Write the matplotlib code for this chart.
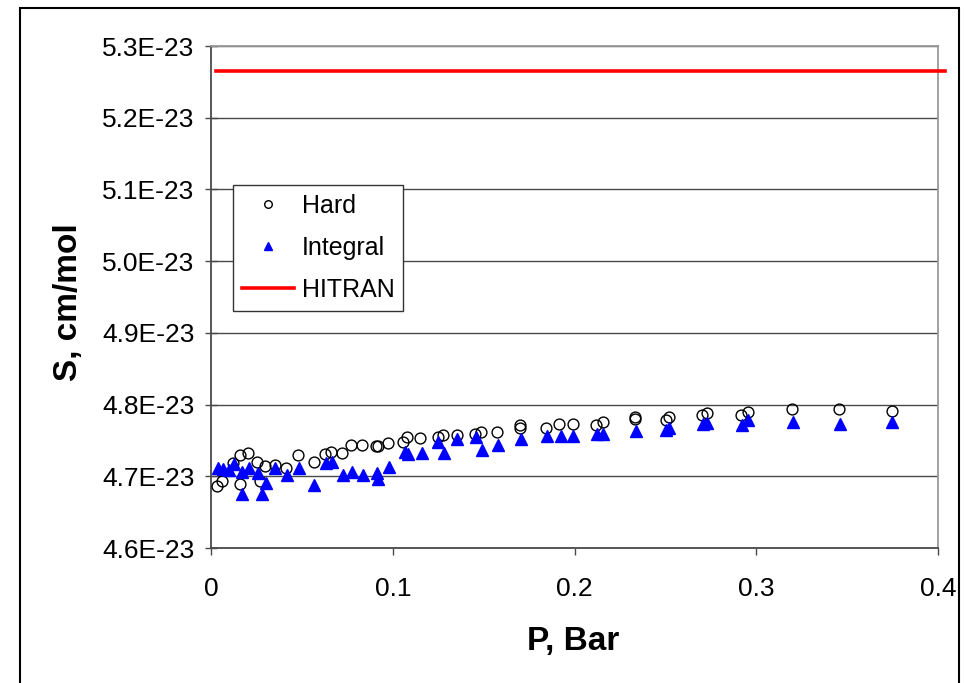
import matplotlib
matplotlib.use("Agg")
import matplotlib.pyplot as plt
from matplotlib.patches import Rectangle
from matplotlib.ticker import FuncFormatter

plt.rcParams['font.family'] = ['Liberation Sans', 'DejaVu Sans']

# Line strength S (units of 1E-23 cm/mol) versus pressure P (bar)
hard_p = [0.0035, 0.0059, 0.0123, 0.016, 0.016, 0.0205, 0.0255, 0.027, 0.0297, 0.035,
          0.0413, 0.048, 0.0567, 0.0627, 0.0659, 0.0719, 0.077, 0.0833, 0.0906, 0.0917,
          0.0976, 0.1058, 0.108, 0.115, 0.1247, 0.1278, 0.1352, 0.1453, 0.1484, 0.1575,
          0.170, 0.170, 0.1843, 0.1916, 0.199, 0.2118, 0.2155, 0.2333, 0.2333, 0.2503,
          0.252, 0.270, 0.2727, 0.2916, 0.2953, 0.3198, 0.3455, 0.3745]
hard_s = [4.686, 4.694, 4.718, 4.730, 4.689, 4.7325, 4.720, 4.693, 4.714, 4.716,
          4.712, 4.730, 4.720, 4.731, 4.7335, 4.733, 4.743, 4.743, 4.7425, 4.7425,
          4.746, 4.7485, 4.7545, 4.754, 4.7545, 4.757, 4.757, 4.759, 4.762, 4.762,
          4.771, 4.767, 4.7675, 4.773, 4.773, 4.772, 4.775, 4.783, 4.780, 4.779,
          4.783, 4.786, 4.788, 4.785, 4.789, 4.7935, 4.7935, 4.791]

integral_p = [0.004, 0.0068, 0.010, 0.0128, 0.0169, 0.0169, 0.021, 0.026, 0.0279, 0.030,
              0.0352, 0.0416, 0.0486, 0.0569, 0.0633, 0.0664, 0.0724, 0.0776, 0.0838, 0.0912,
              0.092, 0.098, 0.1067, 0.1086, 0.116, 0.1251, 0.128, 0.1355, 0.1456, 0.149,
              0.158, 0.1706, 0.185, 0.1924, 0.1994, 0.2122, 0.2159, 0.2337, 0.2505, 0.2518,
              0.2705, 0.273, 0.292, 0.2956, 0.3204, 0.346, 0.3748]
integral_s = [4.711, 4.7097, 4.709, 4.717, 4.7065, 4.6755, 4.711, 4.704, 4.6755, 4.691,
              4.712, 4.702, 4.712, 4.688, 4.718, 4.7205, 4.702, 4.7065, 4.702, 4.705,
              4.6958, 4.713, 4.734, 4.731, 4.733, 4.748, 4.733, 4.7515, 4.7545, 4.737,
              4.744, 4.7515, 4.756, 4.756, 4.756, 4.759, 4.759, 4.763, 4.765, 4.767,
              4.7725, 4.774, 4.771, 4.778, 4.775, 4.773, 4.776]

hitran_p = [0.003, 0.404]
hitran_s = [5.265, 5.265]

y_ticks = [4.6, 4.7, 4.8, 4.9, 5.0, 5.1, 5.2, 5.3]
x_ticks = [0, 0.1, 0.2, 0.3, 0.4]
x_tick_labels = ['0', '0.1', '0.2', '0.3', '0.4']
SCALE = 1e-23

fig = plt.figure(figsize=(9.65, 6.83), dpi=100)
W, H = 965, 683
ax = fig.add_axes([211 / W, (H - 548) / H, 727 / W, 502 / H])

ax.plot(hard_p, [v * SCALE for v in hard_s], linestyle='none', marker='o',
        markersize=7.8, markerfacecolor='none', markeredgecolor='black',
        markeredgewidth=1.0, label='Hard', zorder=3)
ax.plot(integral_p, [v * SCALE for v in integral_s], linestyle='none', marker='^',
        markersize=9, markerfacecolor='#0000FF', markeredgecolor='#0000FF',
        label='Integral', zorder=4)
ax.plot(hitran_p, [v * SCALE for v in hitran_s], color='#FF0000', linewidth=2.6,
        label='HITRAN', clip_on=False, zorder=5)

ax.set_xlim(0, 0.4)
ax.set_ylim(4.6 * SCALE, 5.3 * SCALE)
ax.set_xticks(x_ticks)
ax.set_xticklabels(x_tick_labels)
ax.set_yticks([t * SCALE for t in y_ticks])
ax.yaxis.set_major_formatter(FuncFormatter(lambda v, _: f"{v:.1E}"))

ax.yaxis.grid(True, color='#4a4a4a', linewidth=1.0)
ax.set_axisbelow(True)

for side in ('top', 'right'):
    ax.spines[side].set_color('#9a9a9a')
    ax.spines[side].set_linewidth(1.3)
for side in ('left', 'bottom'):
    ax.spines[side].set_color('#4a4a4a')
    ax.spines[side].set_linewidth(1.3)

ax.tick_params(axis='y', direction='inout', length=8, width=1, color='#4a4a4a',
               labelsize=19, pad=8)
ax.tick_params(axis='x', direction='out', length=5, width=1, color='#4a4a4a',
               labelsize=19, pad=16)

ax.set_xlabel('P, Bar', fontsize=24, fontweight='bold', va='center')
ax.xaxis.set_label_coords(0.498, -0.187)
ax.set_ylabel('S, cm/mol', fontsize=24, fontweight='bold', va='center')
ax.yaxis.set_label_coords(-0.196, 0.49)

leg = ax.legend(loc='upper left', bbox_to_anchor=(0.030, 0.723), borderaxespad=0,
                fontsize=18, frameon=True, fancybox=False, edgecolor='#333333',
                framealpha=1, handlelength=2.1, handletextpad=0.3, labelspacing=0.72,
                borderpad=0.35, markerscale=0.7)
leg.get_frame().set_linewidth(1.0)

# Outer border around the whole chart
fig.patches.append(Rectangle((20 / W, -0.05), (959 - 20) / W, 1.05 - 8 / H,
                             transform=fig.transFigure, fill=False,
                             edgecolor='black', linewidth=1.5))

fig.savefig('out.png', dpi=100)
